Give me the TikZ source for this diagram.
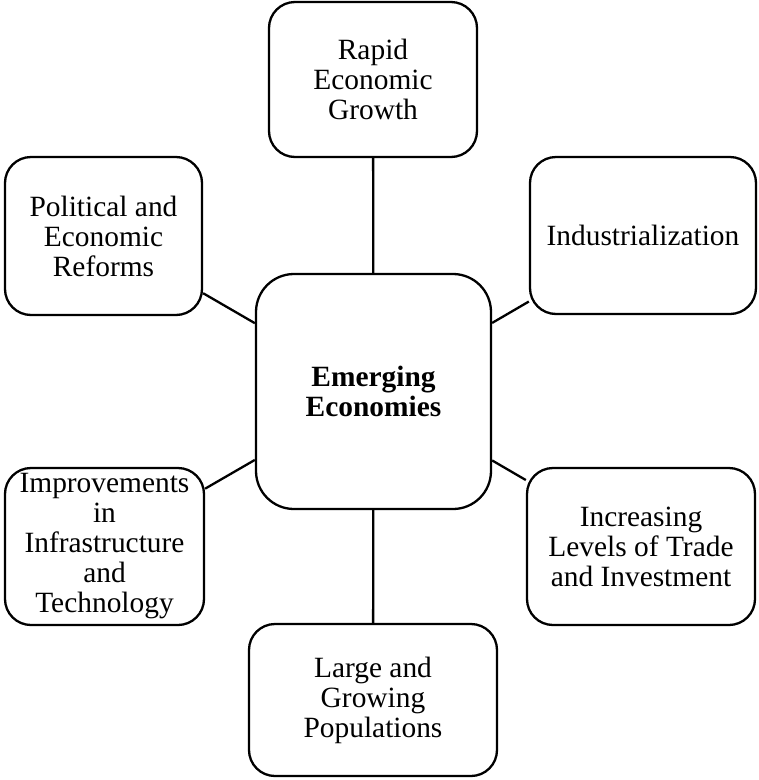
\documentclass[tikz,border=0pt]{standalone}
\usepackage{fontspec}
\setmainfont{Liberation Serif}
\begin{document}
\begin{tikzpicture}[x=1pt,y=-1pt,
  box/.style={draw, line width=2.3pt, rounded corners=26pt, align=center, inner sep=0pt,
    font=\fontsize{29.4}{30}\selectfont},
  hub/.style={box, rounded corners=38pt, font=\fontsize{29.4}{29.5}\selectfont\bfseries},
  link/.style={line width=2.3pt}]
\useasboundingbox (0,0) rectangle (759,780);
\node[hub, minimum width=235pt, minimum height=235pt] (c) at (373.5,391.5) {Emerging\\Economies};
\node[box, minimum width=208pt, minimum height=155pt] (t) at (373,79.5) {Rapid\\Economic\\Growth};
\node[box, minimum width=197pt, minimum height=158pt] (tl) at (103.5,236) {Political and\\Economic\\Reforms};
\node[box, minimum width=226pt, minimum height=157pt] (tr) at (643,235.5) {Industrialization};
\node[box, minimum width=199pt, minimum height=157pt] (bl) at (104.5,546.5) {Improvements\\in\\Infrastructure\\and\\Technology};
\node[box, minimum width=228pt, minimum height=157pt] (br) at (641,546.5) {Increasing\\Levels of Trade\\and Investment};
\node[box, minimum width=248pt, minimum height=152pt] (b) at (373,700) {Large and\\Growing\\Populations};
\draw[link] (c) -- (t);
\draw[link] (c) -- (tl);
\draw[link] (c) -- (tr);
\draw[link] (c) -- (bl);
\draw[link] (c) -- (br);
\draw[link] (c) -- (b);
\end{tikzpicture}
\end{document}
